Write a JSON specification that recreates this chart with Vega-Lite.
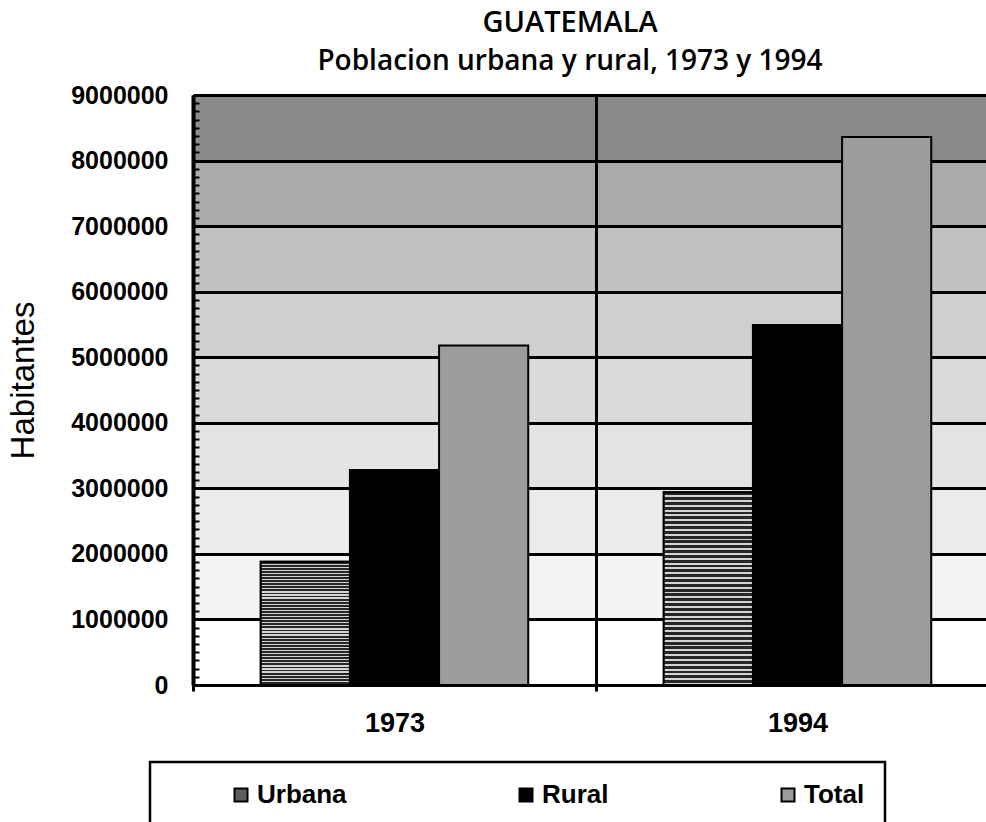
{
  "$schema": "https://vega.github.io/schema/vega-lite/v6.json",
  "width": 806,
  "height": 590,
  "autosize": {"type": "none"},
  "padding": {"left": 193, "top": 95, "right": -13, "bottom": 137},
  "background": "white",
  "config": {"legend": {"strokeWidth": 2.5}},
  "title": {
    "text": "GUATEMALA",
    "subtitle": "Poblacion urbana y rural, 1973 y 1994",
    "font": "Open Sans",
    "fontSize": 29,
    "fontWeight": 600,
    "color": "black",
    "subtitleFont": "Open Sans",
    "subtitleFontSize": 28,
    "subtitleFontWeight": 600,
    "subtitleColor": "black",
    "subtitlePadding": 10,
    "anchor": "middle",
    "dx": -26,
    "offset": 7
  },
  "view": {
    "stroke": null,
    "fill": {
      "gradient": "linear",
      "x1": 0, "y1": 1, "x2": 0, "y2": 0,
      "stops": [
        {"offset": 0, "color": "#ffffff"},
        {"offset": 0.1111, "color": "#ffffff"},
        {"offset": 0.1111, "color": "#f3f3f3"},
        {"offset": 0.2222, "color": "#f3f3f3"},
        {"offset": 0.2222, "color": "#ebebeb"},
        {"offset": 0.3333, "color": "#ebebeb"},
        {"offset": 0.3333, "color": "#e3e3e3"},
        {"offset": 0.4444, "color": "#e3e3e3"},
        {"offset": 0.4444, "color": "#dadada"},
        {"offset": 0.5556, "color": "#dadada"},
        {"offset": 0.5556, "color": "#cfcfcf"},
        {"offset": 0.6667, "color": "#cfcfcf"},
        {"offset": 0.6667, "color": "#c2c2c2"},
        {"offset": 0.7778, "color": "#c2c2c2"},
        {"offset": 0.7778, "color": "#aaaaaa"},
        {"offset": 0.8889, "color": "#aaaaaa"},
        {"offset": 0.8889, "color": "#8a8a8a"},
        {"offset": 1, "color": "#8a8a8a"}
      ]
    }
  },
  "data": {
    "values": [
      {"anio": "1973", "serie": "Urbana", "habitantes": 1880000},
      {"anio": "1973", "serie": "Rural", "habitantes": 3280000},
      {"anio": "1973", "serie": "Total", "habitantes": 5180000},
      {"anio": "1994", "serie": "Urbana", "habitantes": 2940000},
      {"anio": "1994", "serie": "Rural", "habitantes": 5490000},
      {"anio": "1994", "serie": "Total", "habitantes": 8360000}
    ]
  },
  "encoding": {
    "x": {
      "field": "anio",
      "type": "nominal",
      "scale": {"paddingInner": 0, "paddingOuter": 0},
      "axis": {
        "title": null,
        "labelAngle": 0,
        "labelFont": "Liberation Sans",
        "labelFontSize": 27,
        "labelFontWeight": "bold",
        "labelColor": "black",
        "labelPadding": 19,
        "domainColor": "black",
        "domainWidth": 3,
        "tickBand": "extent",
        "ticks": true,
        "tickSize": 6,
        "tickWidth": 3,
        "tickColor": "black",
        "grid": true,
        "gridColor": "black",
        "gridWidth": 3,
        "gridOpacity": 1
      }
    },
    "xOffset": {"field": "serie", "type": "nominal", "sort": ["Urbana", "Rural", "Total"], "scale": {"domain": ["Urbana", "Rural", "Total"], "paddingInner": 0, "paddingOuter": 0.76}},
    "y": {
      "field": "habitantes",
      "type": "quantitative",
      "scale": {"domain": [0, 9000000], "nice": false, "zero": true},
      "axis": {
        "title": "Habitantes",
        "titleFont": "Liberation Sans",
        "titleFontSize": 33,
        "titleFontWeight": "normal",
        "titleColor": "black",
        "titleAngle": -90,
        "titleAlign": "center",
        "titleBaseline": "alphabetic",
        "titleX": -160,
        "titleY": 285,
        "values": [0, 125000, 250000, 375000, 500000, 625000, 750000, 875000, 1000000, 1125000, 1250000, 1375000, 1500000, 1625000, 1750000, 1875000, 2000000, 2125000, 2250000, 2375000, 2500000, 2625000, 2750000, 2875000, 3000000, 3125000, 3250000, 3375000, 3500000, 3625000, 3750000, 3875000, 4000000, 4125000, 4250000, 4375000, 4500000, 4625000, 4750000, 4875000, 5000000, 5125000, 5250000, 5375000, 5500000, 5625000, 5750000, 5875000, 6000000, 6125000, 6250000, 6375000, 6500000, 6625000, 6750000, 6875000, 7000000, 7125000, 7250000, 7375000, 7500000, 7625000, 7750000, 7875000, 8000000, 8125000, 8250000, 8375000, 8500000, 8625000, 8750000, 8875000, 9000000],
        "format": "d",
        "labelExpr": "datum.value % 1000000 === 0 ? datum.label : ''",
        "labelOverlap": false,
        "labelFont": "Liberation Sans",
        "labelFontSize": 25,
        "labelFontWeight": "bold",
        "labelColor": "black",
        "labelPadding": 31,
        "domainColor": "black",
        "domainWidth": 4,
        "ticks": true,
        "tickSize": -6,
        "tickWidth": 2,
        "tickColor": "black",
        "grid": true,
        "gridColor": "black",
        "gridWidth": 3,
        "gridOpacity": {"condition": {"test": "datum.value % 1000000 === 0", "value": 1}, "value": 0}
      }
    }
  },
  "layer": [
    {
      "mark": {"type": "bar", "stroke": "black", "strokeWidth": 2, "opacity": 1},
      "encoding": {
        "color": {
          "field": "serie",
          "type": "nominal",
          "sort": ["Urbana", "Rural", "Total"],
          "scale": {"domain": ["Urbana", "Rural", "Total"], "range": ["#5e5e5e", "#000000", "#9c9c9c"]},
          "legend": {
            "title": null,
            "orient": "none",
            "legendX": -43,
            "legendY": 667,
            "direction": "horizontal",
            "columns": 3,
            "labelFont": "Liberation Sans",
            "labelFontSize": 26,
            "labelFontWeight": "bold",
            "labelColor": "black",
            "labelOffset": 3,
            "symbolType": "square",
            "symbolSize": 169,
            "symbolOffset": 58,
            "symbolStrokeColor": "black",
            "symbolStrokeWidth": 2,
            "symbolOpacity": 1,
            "columnPadding": 108,
            "padding": 20,
            "strokeColor": "black",
            "fillColor": "white"
          }
        }
      }
    },
    {
      "transform": [{"filter": "datum.serie === 'Urbana'"}],
      "mark": {
        "type": "bar",
        "stroke": "black",
        "strokeWidth": 2,
        "opacity": 1,
        "fill": {
          "gradient": "linear",
          "x1": 0, "y1": 0, "x2": 0, "y2": 1,
          "stops": [
            {"offset": 0, "color": "#262626"}, {"offset": 0.015, "color": "#262626"}, {"offset": 0.015, "color": "#d4d4d4"}, {"offset": 0.025, "color": "#d4d4d4"},
            {"offset": 0.025, "color": "#262626"}, {"offset": 0.04, "color": "#262626"}, {"offset": 0.04, "color": "#d4d4d4"}, {"offset": 0.05, "color": "#d4d4d4"},
            {"offset": 0.05, "color": "#262626"}, {"offset": 0.065, "color": "#262626"}, {"offset": 0.065, "color": "#d4d4d4"}, {"offset": 0.075, "color": "#d4d4d4"},
            {"offset": 0.075, "color": "#262626"}, {"offset": 0.09, "color": "#262626"}, {"offset": 0.09, "color": "#d4d4d4"}, {"offset": 0.1, "color": "#d4d4d4"},
            {"offset": 0.1, "color": "#262626"}, {"offset": 0.115, "color": "#262626"}, {"offset": 0.115, "color": "#d4d4d4"}, {"offset": 0.125, "color": "#d4d4d4"},
            {"offset": 0.125, "color": "#262626"}, {"offset": 0.14, "color": "#262626"}, {"offset": 0.14, "color": "#d4d4d4"}, {"offset": 0.15, "color": "#d4d4d4"},
            {"offset": 0.15, "color": "#262626"}, {"offset": 0.165, "color": "#262626"}, {"offset": 0.165, "color": "#d4d4d4"}, {"offset": 0.175, "color": "#d4d4d4"},
            {"offset": 0.175, "color": "#262626"}, {"offset": 0.19, "color": "#262626"}, {"offset": 0.19, "color": "#d4d4d4"}, {"offset": 0.2, "color": "#d4d4d4"},
            {"offset": 0.2, "color": "#262626"}, {"offset": 0.215, "color": "#262626"}, {"offset": 0.215, "color": "#d4d4d4"}, {"offset": 0.225, "color": "#d4d4d4"},
            {"offset": 0.225, "color": "#262626"}, {"offset": 0.24, "color": "#262626"}, {"offset": 0.24, "color": "#d4d4d4"}, {"offset": 0.25, "color": "#d4d4d4"},
            {"offset": 0.25, "color": "#262626"}, {"offset": 0.265, "color": "#262626"}, {"offset": 0.265, "color": "#d4d4d4"}, {"offset": 0.275, "color": "#d4d4d4"},
            {"offset": 0.275, "color": "#262626"}, {"offset": 0.29, "color": "#262626"}, {"offset": 0.29, "color": "#d4d4d4"}, {"offset": 0.3, "color": "#d4d4d4"},
            {"offset": 0.3, "color": "#262626"}, {"offset": 0.315, "color": "#262626"}, {"offset": 0.315, "color": "#d4d4d4"}, {"offset": 0.325, "color": "#d4d4d4"},
            {"offset": 0.325, "color": "#262626"}, {"offset": 0.34, "color": "#262626"}, {"offset": 0.34, "color": "#d4d4d4"}, {"offset": 0.35, "color": "#d4d4d4"},
            {"offset": 0.35, "color": "#262626"}, {"offset": 0.365, "color": "#262626"}, {"offset": 0.365, "color": "#d4d4d4"}, {"offset": 0.375, "color": "#d4d4d4"},
            {"offset": 0.375, "color": "#262626"}, {"offset": 0.39, "color": "#262626"}, {"offset": 0.39, "color": "#d4d4d4"}, {"offset": 0.4, "color": "#d4d4d4"},
            {"offset": 0.4, "color": "#262626"}, {"offset": 0.415, "color": "#262626"}, {"offset": 0.415, "color": "#d4d4d4"}, {"offset": 0.425, "color": "#d4d4d4"},
            {"offset": 0.425, "color": "#262626"}, {"offset": 0.44, "color": "#262626"}, {"offset": 0.44, "color": "#d4d4d4"}, {"offset": 0.45, "color": "#d4d4d4"},
            {"offset": 0.45, "color": "#262626"}, {"offset": 0.465, "color": "#262626"}, {"offset": 0.465, "color": "#d4d4d4"}, {"offset": 0.475, "color": "#d4d4d4"},
            {"offset": 0.475, "color": "#262626"}, {"offset": 0.49, "color": "#262626"}, {"offset": 0.49, "color": "#d4d4d4"}, {"offset": 0.5, "color": "#d4d4d4"},
            {"offset": 0.5, "color": "#262626"}, {"offset": 0.515, "color": "#262626"}, {"offset": 0.515, "color": "#d4d4d4"}, {"offset": 0.525, "color": "#d4d4d4"},
            {"offset": 0.525, "color": "#262626"}, {"offset": 0.54, "color": "#262626"}, {"offset": 0.54, "color": "#d4d4d4"}, {"offset": 0.55, "color": "#d4d4d4"},
            {"offset": 0.55, "color": "#262626"}, {"offset": 0.565, "color": "#262626"}, {"offset": 0.565, "color": "#d4d4d4"}, {"offset": 0.575, "color": "#d4d4d4"},
            {"offset": 0.575, "color": "#262626"}, {"offset": 0.59, "color": "#262626"}, {"offset": 0.59, "color": "#d4d4d4"}, {"offset": 0.6, "color": "#d4d4d4"},
            {"offset": 0.6, "color": "#262626"}, {"offset": 0.615, "color": "#262626"}, {"offset": 0.615, "color": "#d4d4d4"}, {"offset": 0.625, "color": "#d4d4d4"},
            {"offset": 0.625, "color": "#262626"}, {"offset": 0.64, "color": "#262626"}, {"offset": 0.64, "color": "#d4d4d4"}, {"offset": 0.65, "color": "#d4d4d4"},
            {"offset": 0.65, "color": "#262626"}, {"offset": 0.665, "color": "#262626"}, {"offset": 0.665, "color": "#d4d4d4"}, {"offset": 0.675, "color": "#d4d4d4"},
            {"offset": 0.675, "color": "#262626"}, {"offset": 0.69, "color": "#262626"}, {"offset": 0.69, "color": "#d4d4d4"}, {"offset": 0.7, "color": "#d4d4d4"},
            {"offset": 0.7, "color": "#262626"}, {"offset": 0.715, "color": "#262626"}, {"offset": 0.715, "color": "#d4d4d4"}, {"offset": 0.725, "color": "#d4d4d4"},
            {"offset": 0.725, "color": "#262626"}, {"offset": 0.74, "color": "#262626"}, {"offset": 0.74, "color": "#d4d4d4"}, {"offset": 0.75, "color": "#d4d4d4"},
            {"offset": 0.75, "color": "#262626"}, {"offset": 0.765, "color": "#262626"}, {"offset": 0.765, "color": "#d4d4d4"}, {"offset": 0.775, "color": "#d4d4d4"},
            {"offset": 0.775, "color": "#262626"}, {"offset": 0.79, "color": "#262626"}, {"offset": 0.79, "color": "#d4d4d4"}, {"offset": 0.8, "color": "#d4d4d4"},
            {"offset": 0.8, "color": "#262626"}, {"offset": 0.815, "color": "#262626"}, {"offset": 0.815, "color": "#d4d4d4"}, {"offset": 0.825, "color": "#d4d4d4"},
            {"offset": 0.825, "color": "#262626"}, {"offset": 0.84, "color": "#262626"}, {"offset": 0.84, "color": "#d4d4d4"}, {"offset": 0.85, "color": "#d4d4d4"},
            {"offset": 0.85, "color": "#262626"}, {"offset": 0.865, "color": "#262626"}, {"offset": 0.865, "color": "#d4d4d4"}, {"offset": 0.875, "color": "#d4d4d4"},
            {"offset": 0.875, "color": "#262626"}, {"offset": 0.89, "color": "#262626"}, {"offset": 0.89, "color": "#d4d4d4"}, {"offset": 0.9, "color": "#d4d4d4"},
            {"offset": 0.9, "color": "#262626"}, {"offset": 0.915, "color": "#262626"}, {"offset": 0.915, "color": "#d4d4d4"}, {"offset": 0.925, "color": "#d4d4d4"},
            {"offset": 0.925, "color": "#262626"}, {"offset": 0.94, "color": "#262626"}, {"offset": 0.94, "color": "#d4d4d4"}, {"offset": 0.95, "color": "#d4d4d4"},
            {"offset": 0.95, "color": "#262626"}, {"offset": 0.965, "color": "#262626"}, {"offset": 0.965, "color": "#d4d4d4"}, {"offset": 0.975, "color": "#d4d4d4"},
            {"offset": 0.975, "color": "#262626"}, {"offset": 0.99, "color": "#262626"}, {"offset": 0.99, "color": "#d4d4d4"}, {"offset": 1, "color": "#d4d4d4"}
          ]
        }
      }
    }
  ]
}
